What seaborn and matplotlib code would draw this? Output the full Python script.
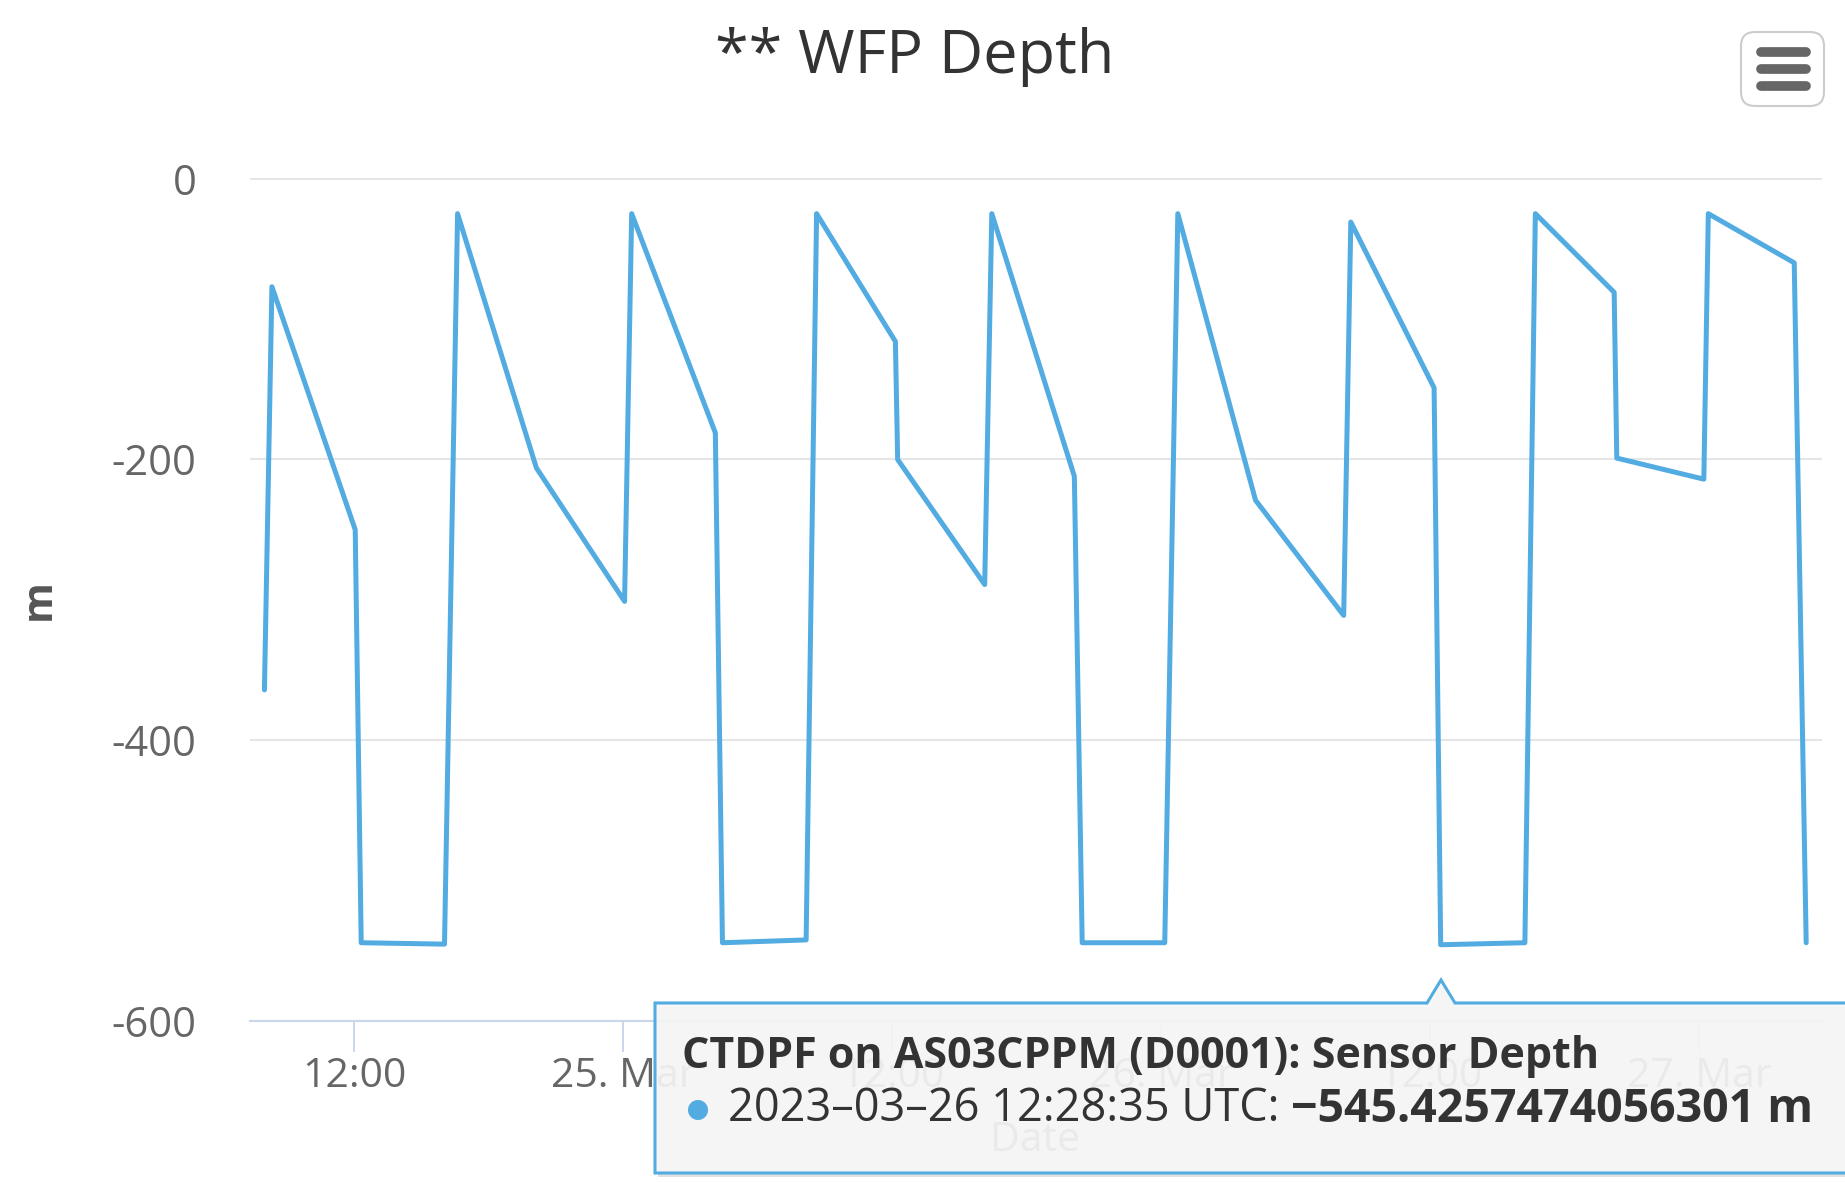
import numpy as np
import pandas as pd
import matplotlib
matplotlib.use("Agg")
import matplotlib.pyplot as plt
import matplotlib.dates as mdates
import matplotlib.transforms as mtransforms
from matplotlib.patches import Polygon, FancyBboxPatch, Circle
from matplotlib.lines import Line2D
import seaborn as sns

# values
times = [
    "2023-03-24 08:00", "2023-03-24 08:20", "2023-03-24 12:03", "2023-03-24 12:19",
    "2023-03-24 16:02", "2023-03-24 16:37", "2023-03-24 20:08", "2023-03-25 00:04",
    "2023-03-25 00:23", "2023-03-25 04:07", "2023-03-25 04:26", "2023-03-25 08:10",
    "2023-03-25 08:38", "2023-03-25 12:09", "2023-03-25 12:15", "2023-03-25 16:08",
    "2023-03-25 16:27", "2023-03-25 20:08", "2023-03-25 20:29", "2023-03-26 00:10",
    "2023-03-26 00:45", "2023-03-26 04:13", "2023-03-26 08:09", "2023-03-26 08:28",
    "2023-03-26 12:11", "2023-03-26 12:28:35", "2023-03-26 16:14", "2023-03-26 16:42",
    "2023-03-26 20:13", "2023-03-26 20:20", "2023-03-27 00:13", "2023-03-27 00:25",
    "2023-03-27 04:15", "2023-03-27 04:47",
]
depth = [
    -364, -77, -250, -544, -545, -25, -206, -301,
    -25, -181, -544, -542, -25, -116, -200, -289,
    -25, -212, -544, -544, -25, -229, -311, -31,
    -149, -545.43, -544, -25, -81, -199, -214, -25,
    -60, -544,
]

title = "** WFP Depth"
y_label = "m"
x_label = "Date"
y_ticks = [0, -200, -400, -600]
tip_series = "CTDPF on AS03CPPM (D0001): Sensor Depth"
tip_time = "2023\u201303\u201326 12:28:35 UTC: "
tip_value = "\u2212545.4257474056301 m"

line_color = "#52abe1"

sns.set_theme(style="white")
plt.rcParams['font.family'] = ['Open Sans', 'DejaVu Sans']
plt.rcParams['axes.unicode_minus'] = False

df = pd.DataFrame({"Date": pd.to_datetime(times, format="mixed"), "m": depth})

W, H = 1845, 1182
fig = plt.figure(figsize=(W / 100, H / 100), dpi=100)
fig.patch.set_facecolor("white")
ax = fig.add_axes([249.5 / W, 1 - 1021.4 / H, (1821.5 - 249.5) / W, (1021.4 - 177.7) / H])

sns.lineplot(data=df, x="Date", y="m", ax=ax, color=line_color, lw=3.6,
             estimator=None, sort=False, solid_joinstyle="round")

ax.set_xlim(pd.Timestamp("2023-03-24 07:20"), pd.Timestamp("2023-03-27 05:28"))
ax.set_ylim(-600, 0.6)
ax.set_yticks(y_ticks)

for s in ["top", "right", "left"]:
    ax.spines[s].set_visible(False)
ax.spines["bottom"].set_color("#ccd6eb")
ax.spines["bottom"].set_linewidth(1.5)

ax.yaxis.grid(True, color="#e6e6e6", lw=1.5)
ax.xaxis.grid(False)
ax.tick_params(axis="y", length=0, pad=38, labelsize=30, labelcolor="#666666")
ax.tick_params(axis="x", direction="out", length=22, width=1.4, color="#ccd6eb",
               pad=3, labelsize=29.5, labelcolor="#666666", bottom=True)


def fmt(x, pos):
    d = mdates.num2date(x)
    if d.hour == 0:
        return d.strftime("%d. %b")
    return d.strftime("%H:%M")


ax.xaxis.set_major_locator(mdates.HourLocator(byhour=[0, 12]))
ax.xaxis.set_major_formatter(plt.FuncFormatter(fmt))

ax.set_xlabel(x_label, fontsize=29.5, color="#666666")
ax.xaxis.set_label_coords(0.4997, -0.118)
ax.set_ylabel(y_label, fontsize=30, color="#555555", fontweight="bold")
ax.yaxis.set_label_coords(-0.121, 0.5)

fig.suptitle(title, x=915 / W, y=1 - 57 / H, va="center", ha="center",
             fontsize=44, color="#333333")

# pixel transform (origin top-left)
px = mtransforms.Affine2D().scale(1 / W, -1 / H).translate(0, 1) + fig.transFigure

# export menu button
fig.add_artist(FancyBboxPatch((1741, 32), 83, 74, boxstyle="round,pad=0,rounding_size=14",
                              transform=px, facecolor="white", edgecolor="#cccccc", lw=1.5))
for yb in [52, 69, 86]:
    fig.add_artist(Line2D([1761, 1806], [yb, yb], transform=px, color="#666666",
                          lw=7, solid_capstyle="round"))

# tooltip
tip = [(655, 1003), (1427, 1003), (1441, 980), (1455, 1003), (1870, 1003),
       (1870, 1173), (655, 1173)]
shadow = [(x + 3, y + 4) for x, y in tip]
fig.add_artist(Polygon(shadow, closed=True, transform=px, facecolor=(0, 0, 0, 0.12),
                       edgecolor="none"))
fig.add_artist(Polygon(tip, closed=True, transform=px, facecolor=(0.97, 0.97, 0.97, 0.92),
                       edgecolor=line_color, lw=2.2))
fig.text(682 / W, 1 - 1056 / H, tip_series, fontsize=31, fontweight="bold",
         color="#333333", va="center", ha="left")
fig.add_artist(Circle((698, 1110), 10, transform=px, facecolor=line_color, edgecolor="none"))
t2 = fig.text(728 / W, 1 - 1109 / H, tip_time, fontsize=32.5, color="#333333",
              va="center", ha="left")
fig.canvas.draw()
bb = t2.get_window_extent()
fig.text(bb.x1 / W, 1 - 1109 / H, tip_value, fontsize=33.5, fontweight="bold",
         color="#333333", va="center", ha="left")

fig.savefig("out.png", dpi=100)
